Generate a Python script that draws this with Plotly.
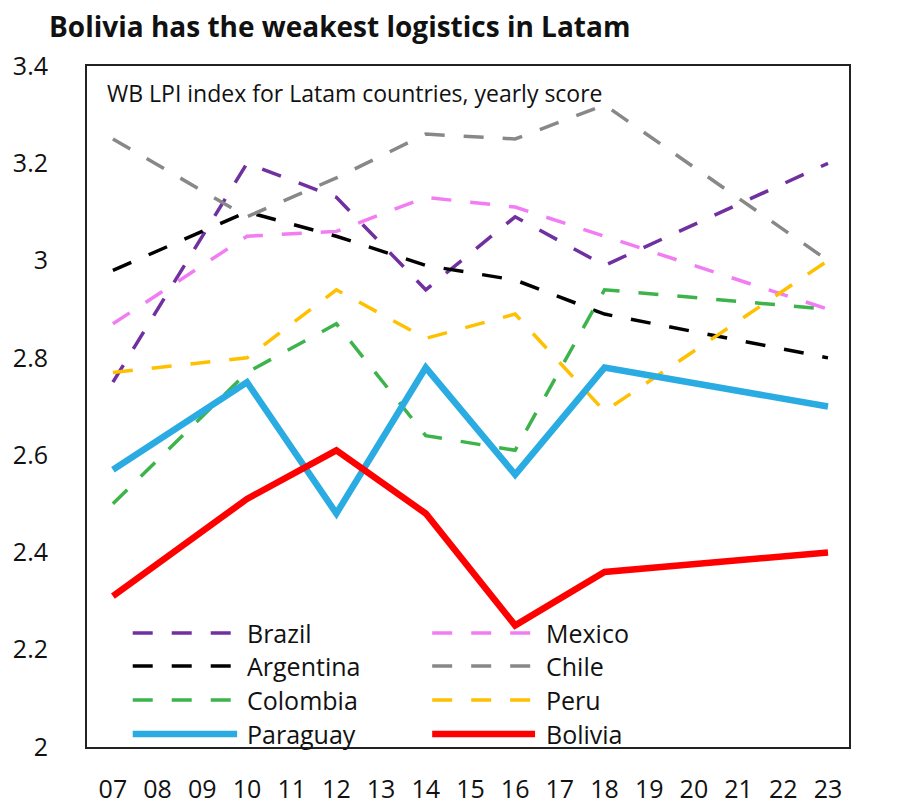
import plotly.graph_objects as go

years = [7, 10, 12, 14, 16, 18, 23]
brazil = [2.75, 3.20, 3.13, 2.94, 3.09, 2.99, 3.20]
mexico = [2.87, 3.05, 3.06, 3.13, 3.11, 3.05, 2.90]
argentina = [2.98, 3.10, 3.05, 2.99, 2.96, 2.89, 2.80]
chile = [3.25, 3.09, 3.17, 3.26, 3.25, 3.32, 3.00]
colombia = [2.50, 2.77, 2.87, 2.64, 2.61, 2.94, 2.90]
peru = [2.77, 2.80, 2.94, 2.84, 2.89, 2.69, 3.00]
paraguay = [2.57, 2.75, 2.48, 2.78, 2.56, 2.78, 2.70]
bolivia = [2.31, 2.51, 2.61, 2.48, 2.25, 2.36, 2.40]

tick_years = list(range(7, 24))
tick_labels = [f"{y:02d}" for y in tick_years]
y_ticks = [2, 2.2, 2.4, 2.6, 2.8, 3, 3.2, 3.4]
y_labels = ["2", "2.2", "2.4", "2.6", "2.8", "3", "3.2", "3.4"]

FONT = "'Open Sans', sans-serif"
DASH = "20px,19px"

series = [
    ("Brazil", brazil, "#7030A0", 3.5, DASH),
    ("Mexico", mexico, "#F27CF2", 3.5, DASH),
    ("Argentina", argentina, "#000000", 3.5, DASH),
    ("Chile", chile, "#888888", 3.5, DASH),
    ("Colombia", colombia, "#3CB44B", 3.5, DASH),
    ("Peru", peru, "#FFC000", 3.5, DASH),
    ("Paraguay", paraguay, "#2AACE2", 6.5, "solid"),
    ("Bolivia", bolivia, "#FF0000", 6.5, "solid"),
]

fig = go.Figure()
for name, vals, color, w, dash in series:
    fig.add_trace(go.Scatter(x=years, y=vals, mode="lines", name=name,
                             line=dict(color=color, width=w, dash=dash),
                             showlegend=False))

# manual legend (two columns)
rows_y = [633, 666, 700, 734]
plot_top, plot_bot = 66, 747
H = plot_bot - plot_top
col_x = [(0.060, 0.197, 0.207), (0.453, 0.588, 0.600)]
shapes = []
annotations = []
for i, (name, vals, color, w, dash) in enumerate(series):
    row, col = divmod(i, 2)
    yp = (plot_bot - rows_y[row]) / H
    x0, x1, xt = col_x[col]
    shapes.append(dict(type="line", xref="paper", yref="paper", x0=x0, x1=x1,
                       y0=yp, y1=yp, line=dict(color=color, width=w, dash=dash)))
    annotations.append(dict(xref="paper", yref="paper", x=xt, y=yp, text=name,
                            showarrow=False, xanchor="left", yanchor="middle",
                            font=dict(size=25, color="#111111", family=FONT)))

annotations.append(dict(xref="paper", yref="paper", x=0.024, y=(plot_bot - 93) / H,
                        text="WB LPI index for Latam countries, yearly score",
                        showarrow=False, xanchor="left", yanchor="middle",
                        font=dict(size=23, color="#111111", family=FONT)))
annotations.append(dict(xref="paper", yref="paper", x=-0.052, y=(plot_bot - 26) / H,
                        text="<b>Bolivia has the weakest logistics in Latam</b>",
                        showarrow=False, xanchor="left", yanchor="middle",
                        font=dict(size=28, color="#111111", family=FONT)))

fig.update_layout(
    width=900, height=812,
    margin=dict(l=87, r=51, t=66, b=65, autoexpand=False),
    paper_bgcolor="white", plot_bgcolor="white",
    font=dict(family=FONT, color="#111111"),
    shapes=shapes, annotations=annotations,
    xaxis=dict(range=[6.42, 23.47], tickmode="array", tickvals=tick_years,
               ticktext=tick_labels, showgrid=False, zeroline=False,
               showline=True, linecolor="#222222", linewidth=2, mirror=True,
               ticks="", ticklabelstandoff=19, automargin=False,
               tickfont=dict(size=25, family=FONT, color="#111111")),
    yaxis=dict(range=[2, 3.4], tickmode="array", tickvals=y_ticks,
               ticktext=y_labels, showgrid=False, zeroline=False,
               showline=True, linecolor="#222222", linewidth=2, mirror=True,
               ticks="", ticklabelstandoff=32, automargin=False,
               tickfont=dict(size=25, family=FONT, color="#111111")),
)

fig.write_html("out.html")
